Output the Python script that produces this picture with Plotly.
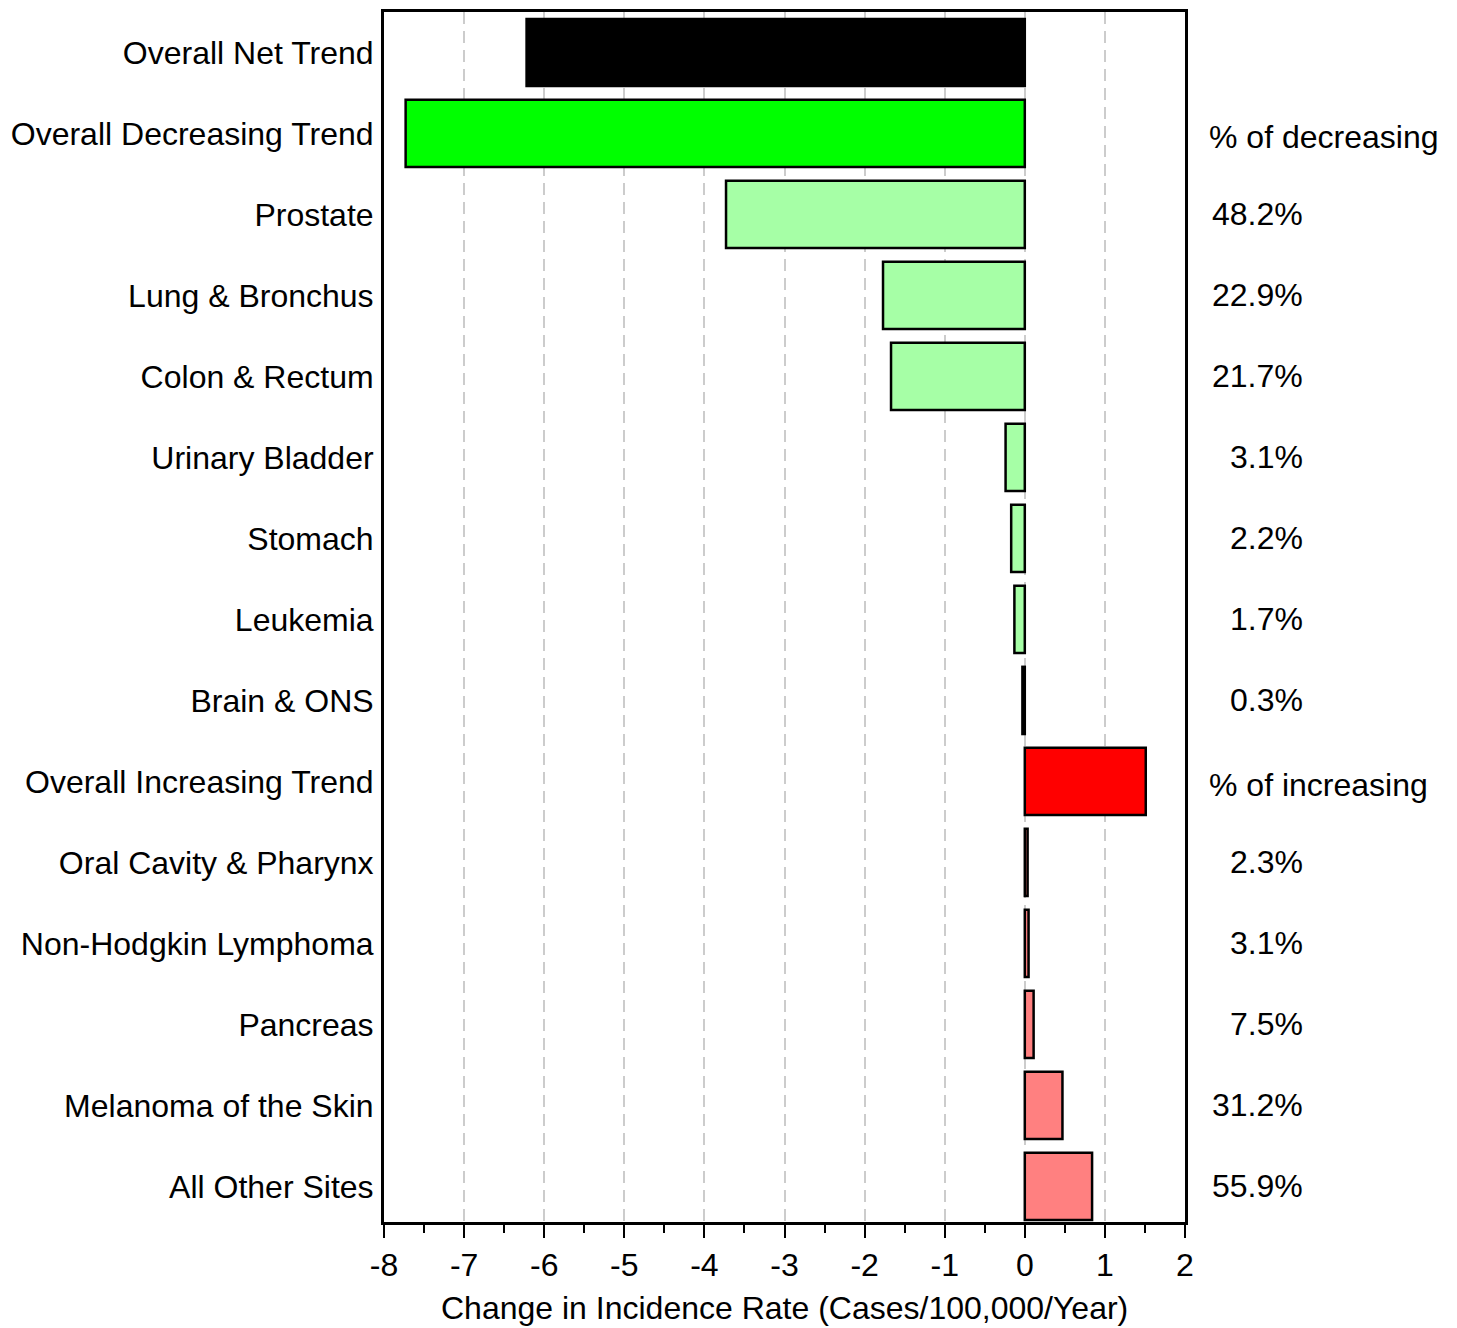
import plotly.graph_objects as go

categories = ["Overall Net Trend", "Overall Decreasing Trend", "Prostate", "Lung & Bronchus",
              "Colon & Rectum", "Urinary Bladder", "Stomach", "Leukemia", "Brain & ONS",
              "Overall Increasing Trend", "Oral Cavity & Pharynx", "Non-Hodgkin Lymphoma",
              "Pancreas", "Melanoma of the Skin", "All Other Sites"]
values = [-6.22, -7.73, -3.73, -1.77, -1.67, -0.24, -0.17, -0.13, -0.03,
          1.51, 0.035, 0.047, 0.11, 0.47, 0.84]
colors = ["#000000", "#00FF00", "#A6FFA6", "#A6FFA6", "#A6FFA6", "#A6FFA6", "#A6FFA6",
          "#A6FFA6", "#A6FFA6", "#FF0000", "#FF8080", "#FF8080", "#FF8080", "#FF8080", "#FF8080"]
pct_labels = ["", "% of decreasing", "48.2%", "22.9%", "21.7%", "3.1%", "2.2%", "1.7%", "0.3%",
              "% of increasing", "2.3%", "3.1%", "7.5%", "31.2%", "55.9%"]
x_ticks = [-8, -7, -6, -5, -4, -3, -2, -1, 0, 1, 2]
x_title = "Change in Incidence Rate (Cases/100,000/Year)"

FONT = "Liberation Sans, Arial, sans-serif"
FS = 32

fig = go.Figure()
fig.add_trace(go.Bar(
    y=categories, x=values, orientation="h",
    marker=dict(color=colors, line=dict(color="black", width=2.5)),
    width=0.83, showlegend=False, hoverinfo="x+y"))

annotations = []
for cat, lab in zip(categories, pct_labels):
    if not lab:
        continue
    if lab.startswith("%"):
        annotations.append(dict(x=1.028, xref="paper", y=cat, yref="y", text=lab,
                                showarrow=False, xanchor="left", yshift=-4,
                                font=dict(family=FONT, size=FS, color="black")))
    else:
        annotations.append(dict(x=1.15, xref="paper", y=cat, yref="y", text=lab,
                                showarrow=False, xanchor="right",
                                font=dict(family=FONT, size=FS, color="black")))
# x-axis title
annotations.append(dict(x=0.5, xref="paper", y=0, yref="paper", text=x_title,
                        showarrow=False, xanchor="center", yanchor="top", yshift=-66,
                        font=dict(family=FONT, size=FS, color="black")))

fig.update_layout(
    width=1441, height=1320,
    margin=dict(l=376, r=264, t=4, b=106, autoexpand=False),
    plot_bgcolor="white", paper_bgcolor="white",
    font=dict(family=FONT, size=FS, color="black"),
    annotations=annotations,
)
fig.update_xaxes(
    range=[-8, 2], tickvals=x_ticks, ticktext=[str(t) for t in x_ticks],
    showgrid=True, gridcolor="#CCCCCC", gridwidth=2, griddash="12px,7px",
    zeroline=False, automargin=False,
    showline=True, linecolor="black", linewidth=3, mirror=True,
    ticks="outside", ticklen=13, tickwidth=2, tickcolor="black",
    minor=dict(dtick=0.5, ticks="outside", ticklen=8, tickwidth=2, tickcolor="black", showgrid=False),
    tickfont=dict(size=FS),
)
fig.update_yaxes(
    range=[14.44, -0.5], showgrid=False, zeroline=False, automargin=False,
    showline=True, linecolor="black", linewidth=3, mirror=True,
    ticks="", ticklabelstandoff=1, tickfont=dict(size=FS),
)

fig.write_html("out.html")
